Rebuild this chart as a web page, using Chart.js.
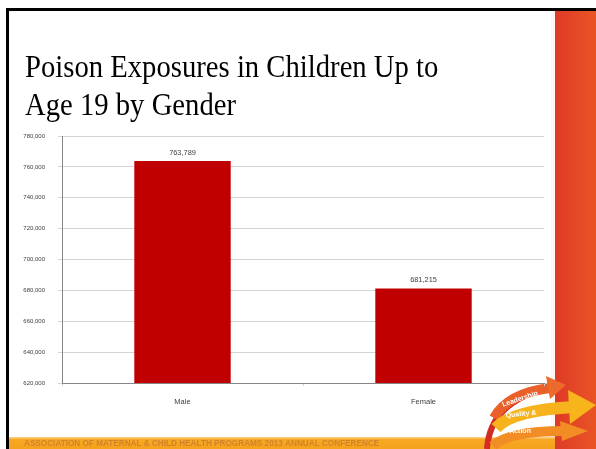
<!DOCTYPE html>
<html><head><meta charset="utf-8">
<script src="https://cdn.jsdelivr.net/npm/chart.js@4"></script>
<style>html,body{margin:0;padding:0;background:#fff;overflow:hidden}</style>
</head><body>
<canvas id="c" width="596" height="449"></canvas>
<script>
const categories = ['Male', 'Female'];
const exposures = [763789, 681215];
const yMin = 620000, yMax = 780000, yStep = 20000;
const titleLines = ['Poison Exposures in Children Up to', 'Age 19 by Gender'];
const footerText = 'ASSOCIATION OF MATERNAL & CHILD HEALTH PROGRAMS 2013 ANNUAL CONFERENCE';
const logoWords = ['Leadership', 'Quality &', 'Action'];

const fmt = v => Number(v).toLocaleString('en-US');

const slidePlugin = {
  id: 'slide',
  beforeDraw(chart) {
    const ctx = chart.ctx;
    ctx.save();
    ctx.fillStyle = '#ffffff';
    ctx.fillRect(0, 0, 596, 449);
    // right strip
    const g = ctx.createLinearGradient(555, 0, 596, 0);
    g.addColorStop(0, '#de3a27');
    g.addColorStop(1, '#e95525');
    ctx.fillStyle = g;
    ctx.fillRect(555, 10, 41, 439);
    ctx.fillStyle = '#fdf6f2';
    ctx.fillRect(551, 10, 4, 439);
    // bottom bar
    const gb = ctx.createLinearGradient(0, 437, 0, 449);
    gb.addColorStop(0, '#fbd79a');
    gb.addColorStop(0.2, '#f7a823');
    gb.addColorStop(1, '#f5a21c');
    ctx.fillStyle = gb;
    ctx.fillRect(7, 437, 548, 12);
    ctx.fillStyle = '#d2832a';
    ctx.font = 'bold 8.2px "Liberation Sans"';
    ctx.textBaseline = 'middle';
    ctx.textAlign = 'left';
    ctx.fillText(footerText, 24, 444);
    // logo
    ctx.lineCap = 'butt';
    ctx.strokeStyle = '#d42c25'; ctx.lineWidth = 6;
    ctx.beginPath(); ctx.moveTo(487, 449); ctx.quadraticCurveTo(490, 402, 548, 388); ctx.stroke();
    ctx.strokeStyle = '#e9602b'; ctx.lineWidth = 10;
    ctx.beginPath(); ctx.moveTo(494, 418); ctx.quadraticCurveTo(508, 393, 550, 388); ctx.stroke();
    ctx.fillStyle = '#ec6a2b';
    ctx.beginPath(); ctx.moveTo(546, 376); ctx.lineTo(566, 385); ctx.lineTo(550, 399); ctx.closePath(); ctx.fill();
    ctx.strokeStyle = '#f6b31c'; ctx.lineWidth = 12;
    ctx.beginPath(); ctx.moveTo(496, 428); ctx.quadraticCurveTo(512, 410, 575, 407); ctx.stroke();
    ctx.fillStyle = '#f7b51b';
    ctx.beginPath(); ctx.moveTo(568, 390); ctx.lineTo(596, 405); ctx.lineTo(570, 424); ctx.closePath(); ctx.fill();
    ctx.strokeStyle = '#f28c24'; ctx.lineWidth = 10;
    ctx.beginPath(); ctx.moveTo(493, 446); ctx.quadraticCurveTo(508, 431, 565, 431); ctx.stroke();
    ctx.fillStyle = '#f28c24';
    ctx.beginPath(); ctx.moveTo(560, 421); ctx.lineTo(588, 431); ctx.lineTo(562, 441); ctx.closePath(); ctx.fill();
    ctx.fillStyle = '#ffffff';
    ctx.font = 'bold 7px "Liberation Sans"';
    ctx.textAlign = 'center';
    ctx.save(); ctx.translate(520, 399); ctx.rotate(-0.32); ctx.fillText(logoWords[0], 0, 0); ctx.restore();
    ctx.save(); ctx.translate(521, 414); ctx.rotate(-0.1); ctx.fillText(logoWords[1], 0, 0); ctx.restore();
    ctx.save(); ctx.translate(520, 431); ctx.rotate(-0.02); ctx.fillText(logoWords[2], 0, 0); ctx.restore();
    // border
    ctx.fillStyle = '#000000';
    ctx.fillRect(6, 8, 590, 3);
    ctx.fillRect(6, 8, 3, 441);
    // title
    ctx.fillStyle = '#000000';
    ctx.font = '31px "Liberation Serif"';
    ctx.textAlign = 'left';
    ctx.textBaseline = 'alphabetic';
    ctx.save();
    ctx.translate(25, 0);
    ctx.scale(0.925, 1);
    ctx.fillText(titleLines[0], 0, 77);
    ctx.fillText(titleLines[1], 0, 115);
    ctx.restore();
    ctx.restore();
  }
};

const labelPlugin = {
  id: 'valueLabels',
  afterDatasetsDraw(chart) {
    const ctx = chart.ctx;
    ctx.save();
    ctx.fillStyle = '#404040';
    ctx.font = '7.4px "Liberation Sans"';
    ctx.textAlign = 'center';
    ctx.textBaseline = 'middle';
    chart.getDatasetMeta(0).data.forEach((bar, i) => {
      ctx.fillText(fmt(exposures[i]), bar.x, bar.y - 8.5);
    });
    ctx.restore();
  }
};

new Chart(document.getElementById('c'), {
  type: 'bar',
  data: {
    labels: categories,
    datasets: [{
      data: exposures,
      backgroundColor: '#c00000',
      borderWidth: 0,
      categoryPercentage: 1,
      barPercentage: 0.4
    }]
  },
  options: {
    responsive: false,
    animation: false,
    devicePixelRatio: 1,
    layout: { padding: { top: 136, right: 52, left: 0, bottom: 0 } },
    plugins: { legend: { display: false }, title: { display: false }, tooltip: { enabled: false } },
    scales: {
      x: {
        afterFit(s) { s.height = 66; },
        grid: { display: true, offset: true, drawOnChartArea: false, tickLength: 3, color: '#d0d0d0' },
        border: { color: '#868686', width: 1 },
        ticks: { color: '#404040', font: { family: 'Liberation Sans', size: 7.5 }, padding: 11 }
      },
      y: {
        min: yMin, max: yMax,
        afterFit(s) { s.width = 62; },
        grid: { color: '#d4d4d4', tickLength: 4 },
        border: { color: '#868686', width: 1 },
        ticks: { stepSize: yStep, color: '#404040', font: { family: 'Liberation Sans', size: 6 }, padding: 13, callback: v => fmt(v) }
      }
    }
  },
  plugins: [slidePlugin, labelPlugin]
});
</script>
</body></html>
